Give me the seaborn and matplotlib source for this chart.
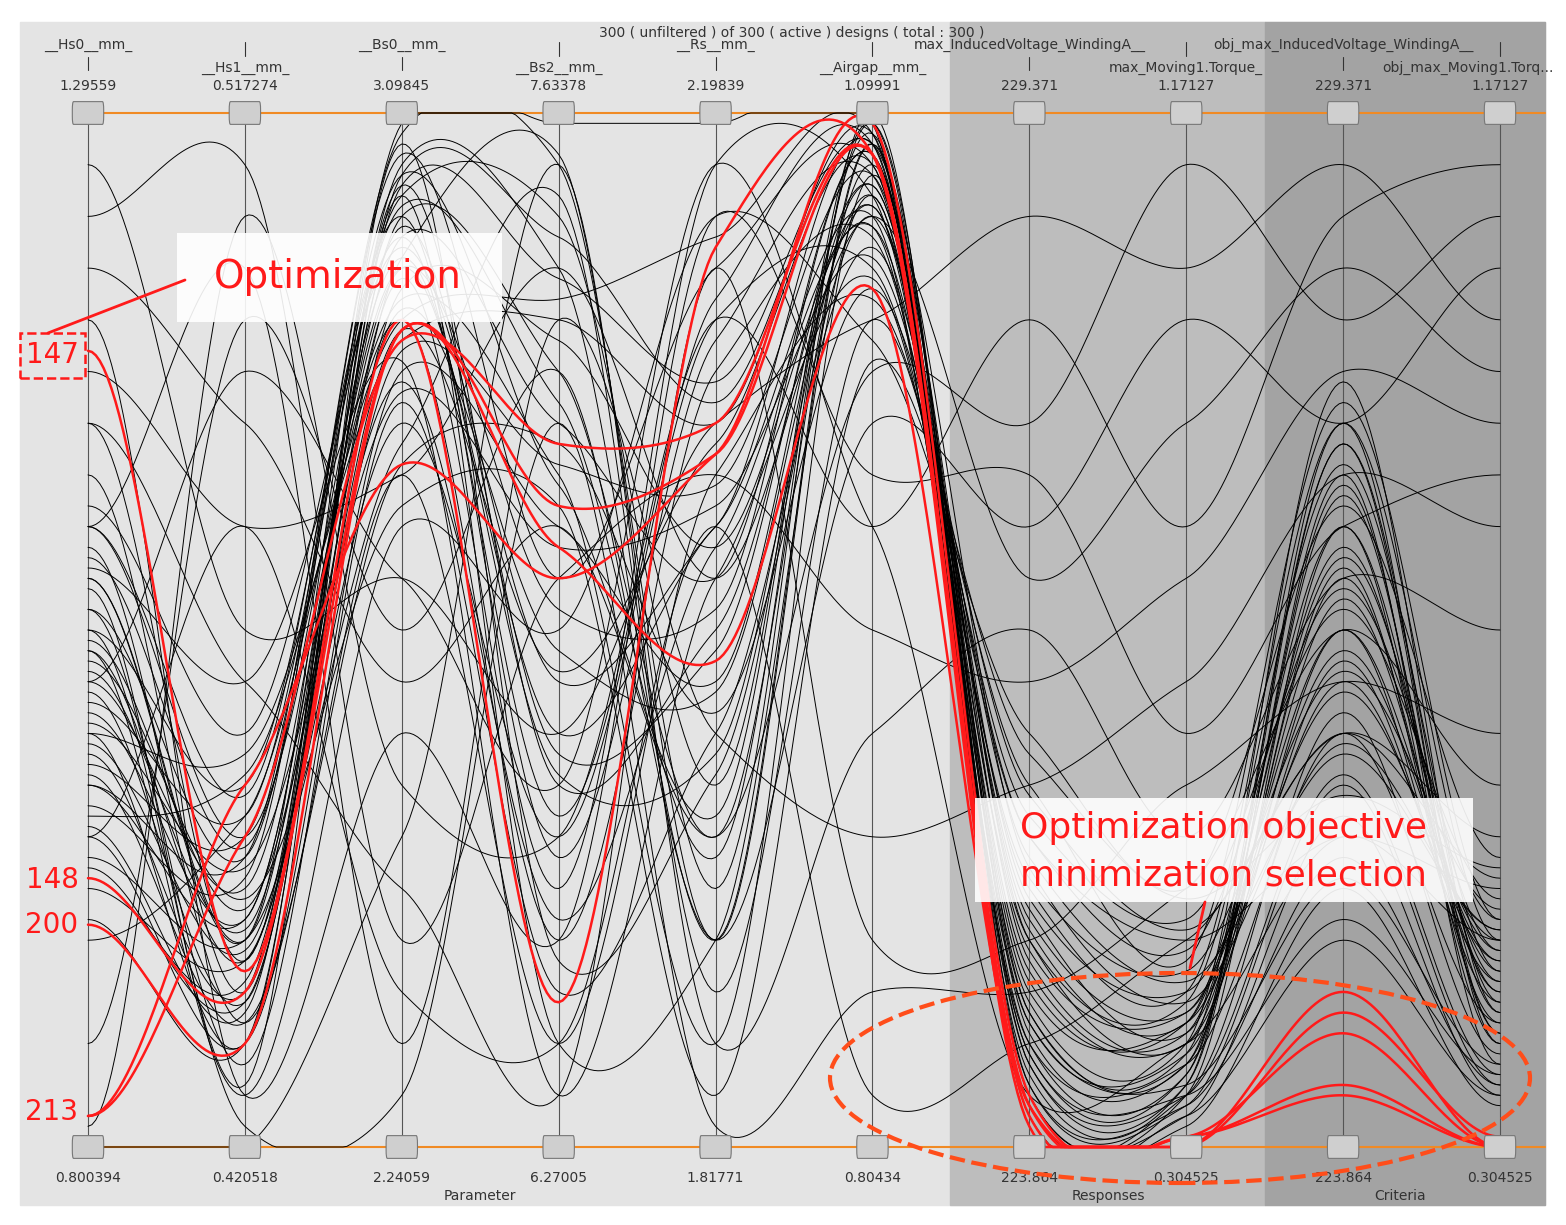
import numpy as np
import pandas as pd
import matplotlib
matplotlib.use("Agg")
import matplotlib.pyplot as plt
from matplotlib.patches import Rectangle, FancyBboxPatch, Ellipse
import seaborn as sns

axis_names = ["__Hs0__mm_", "__Hs1__mm_", "__Bs0__mm_", "__Bs2__mm_", "__Rs__mm_",
              "__Airgap__mm_", "max_InducedVoltage_WindingA__", "max_Moving1.Torque_",
              "obj_max_InducedVoltage_WindingA__", "obj_max_Moving1.Torq..."]
top_vals = ["1.29559", "0.517274", "3.09845", "7.63378", "2.19839", "1.09991",
            "229.371", "1.17127", "229.371", "1.17127"]
bot_vals = ["0.800394", "0.420518", "2.24059", "6.27005", "1.81771", "0.80434",
            "223.864", "0.304525", "223.864", "0.304525"]

# normalized values (0 = bottom, 1 = top)
black = [
 [0.55,0.20,0.90,0.75,0.30,0.95,0.20,0.10,0.55,0.15],
 [0.45,0.25,0.85,0.40,0.60,0.90,0.10,0.08,0.40,0.12],
 [0.38,0.15,0.95,0.85,0.20,0.97,0.05,0.05,0.60,0.10],
 [0.60,0.30,0.80,0.20,0.75,0.88,0.25,0.15,0.70,0.20],
 [0.30,0.10,0.75,0.60,0.45,0.93,0.15,0.12,0.45,0.18],
 [0.50,0.35,0.92,0.90,0.35,0.99,0.08,0.06,0.65,0.08],
 [0.25,0.18,0.70,0.30,0.80,0.85,0.30,0.20,0.30,0.25],
 [0.42,0.22,0.88,0.70,0.55,0.96,0.12,0.09,0.50,0.14],
 [0.58,0.12,0.65,0.10,0.65,0.82,0.35,0.18,0.72,0.22],
 [0.35,0.28,0.98,0.95,0.25,1.00,0.06,0.04,0.35,0.06],
 [0.48,0.05,0.60,0.50,0.90,0.78,0.40,0.25,0.62,0.28],
 [0.20,0.32,0.82,0.65,0.10,0.94,0.18,0.11,0.58,0.16],
 [0.65,0.15,0.93,0.35,0.50,0.91,0.22,0.13,0.48,0.19],
 [0.40,0.38,0.78,0.80,0.70,0.98,0.09,0.07,0.68,0.11],
 [0.52,0.08,0.72,0.15,0.40,0.87,0.28,0.16,0.38,0.21],
 [0.33,0.26,0.96,0.55,0.85,0.95,0.14,0.10,0.74,0.13],
 [0.28,0.20,0.68,0.92,0.15,0.80,0.32,0.22,0.52,0.24],
 [0.62,0.40,0.87,0.45,0.60,0.97,0.04,0.05,0.42,0.09],
 [0.44,0.14,0.84,0.25,0.95,0.92,0.20,0.14,0.66,0.17],
 [0.37,0.30,0.91,0.72,0.28,0.99,0.11,0.08,0.56,0.12],
 [0.56,0.45,0.76,0.05,0.55,0.84,0.26,0.17,0.46,0.23],
 [0.22,0.10,0.94,0.88,0.72,0.96,0.07,0.06,0.70,0.10],
 [0.47,0.24,0.62,0.62,0.05,0.76,0.38,0.24,0.34,0.27],
 [0.70,0.18,0.89,0.38,0.48,0.93,0.16,0.12,0.60,0.15],
 [0.32,0.36,0.80,0.82,0.88,0.98,0.10,0.07,0.64,0.11],
 [0.54,0.06,0.97,0.18,0.36,0.90,0.24,0.15,0.44,0.20],
 [0.41,0.27,0.73,0.58,0.62,0.86,0.30,0.19,0.54,0.22],
 [0.26,0.16,0.86,0.96,0.20,0.97,0.13,0.09,0.68,0.14],
 [0.60,0.34,0.90,0.28,0.78,0.94,0.19,0.13,0.50,0.18],
 [0.36,0.12,0.66,0.68,0.42,0.83,0.34,0.21,0.40,0.26],
 [0.95,0.50,0.55,0.40,0.70,0.80,0.90,0.85,0.95,0.80],
 [0.85,0.70,0.45,0.60,0.30,0.75,0.70,0.95,0.80,0.90],
 [0.75,0.60,0.65,0.85,0.55,0.90,0.55,0.70,0.85,0.75],
 [0.02,0.90,0.35,0.30,0.80,0.60,0.80,0.60,0.90,0.95],
 [0.10,0.80,0.50,0.75,0.20,0.70,0.60,0.80,0.70,0.85],
 [0.90,0.95,0.20,0.55,0.65,0.50,0.45,0.55,0.75,0.70],
 [0.80,0.05,0.40,0.20,0.90,0.65,0.65,0.40,0.60,0.65],
 [0.00,0.00,0.30,0.95,0.10,0.40,0.50,0.30,0.55,0.50],
 [0.60,0.85,0.10,0.80,0.40,0.30,0.35,0.45,0.65,0.60],
 [0.70,0.45,0.25,0.05,0.85,0.20,0.20,0.35,0.45,0.40],
 [0.50,0.02,0.05,0.70,0.02,0.15,0.15,0.25,0.50,0.35],
 [0.30,0.60,0.15,0.10,0.60,0.05,0.10,0.20,0.40,0.30],
 [0.45,0.75,0.55,0.35,0.95,0.60,0.05,0.10,0.30,0.20],
 [0.55,0.20,0.99,0.99,0.99,0.99,0.02,0.03,0.20,0.05],
 [0.40,0.10,0.92,0.10,0.20,0.92,0.03,0.02,0.25,0.04],
 [0.35,0.22,0.85,0.52,0.52,0.96,0.08,0.05,0.36,0.07],
 [0.48,0.18,0.79,0.46,0.68,0.95,0.06,0.04,0.28,0.06],
 [0.52,0.28,0.94,0.64,0.32,0.98,0.05,0.03,0.32,0.05],
 [0.27,0.14,0.83,0.78,0.58,0.89,0.12,0.06,0.26,0.08],
 [0.43,0.32,0.88,0.32,0.82,0.97,0.09,0.05,0.22,0.07],
 [0.46,0.21,0.81,0.48,0.44,0.91,0.17,0.10,0.47,0.16],
 [0.39,0.19,0.77,0.66,0.64,0.94,0.21,0.12,0.57,0.19],
 [0.57,0.29,0.86,0.36,0.38,0.92,0.13,0.08,0.63,0.13],
 [0.31,0.13,0.93,0.84,0.74,0.97,0.27,0.14,0.39,0.21],
 [0.49,0.23,0.74,0.22,0.58,0.89,0.23,0.11,0.53,0.17],
]
red = [
 [0.77,0.17,0.80,0.14,0.87,0.96,0.02,0.01,0.05,0.00],
 [0.26,0.15,0.79,0.62,0.67,0.96,0.03,0.01,0.06,0.00],
 [0.215,0.10,0.79,0.58,0.47,0.83,0.04,0.00,0.15,0.00],
 [0.03,0.35,0.66,0.55,0.67,0.99,0.05,0.00,0.13,0.01],
 [0.03,0.30,0.78,0.68,0.70,0.96,0.04,0.01,0.11,0.00],
]

def smooth(vals, n=40, k=0.3):
    p = np.asarray(vals, float)
    m = np.zeros_like(p)
    m[1:-1] = k * (p[2:] - p[:-2])
    xs, ys = [], []
    for i in range(len(p) - 1):
        t = np.linspace(0, 1, n, endpoint=False)
        h00 = 2*t**3 - 3*t**2 + 1; h10 = t**3 - 2*t**2 + t
        h01 = -2*t**3 + 3*t**2; h11 = t**3 - t**2
        ys.append(h00*p[i] + h10*m[i] + h01*p[i+1] + h11*m[i+1]); xs.append(i + t)
    xs.append([len(p)-1]); ys.append([p[-1]])
    return np.concatenate(xs), np.clip(np.concatenate(ys), 0, 1.0)

def frame(data, prefix):
    rows = []
    for k, v in enumerate(data):
        x, y = smooth(v)
        rows += [(prefix + str(k), xi, yi) for xi, yi in zip(x, y)]
    return pd.DataFrame(rows, columns=["design", "x", "y"])
dfb = frame(black, "b")
dfr = frame(red, "r")

sns.set_theme(style="white")
plt.rcParams['font.family'] = ['DejaVu Sans']
W, H = 1566, 1225
fig = plt.figure(figsize=(W/100, H/100), dpi=100)
ax = fig.add_axes([0, 0, 1, 1])
sx = 1412/9
px = lambda X: (X - 88)/sx
py = lambda Y: (1147 - Y)/1034

ax.add_patch(Rectangle((px(20), py(1205)), px(1545)-px(20), py(22)-py(1205), color="#e4e4e4", zorder=0))
ax.add_patch(Rectangle((px(950), py(1205)), px(1265)-px(950), py(22)-py(1205), color="#bdbdbd", zorder=0))
ax.add_patch(Rectangle((px(1265), py(1205)), px(1545)-px(1265), py(22)-py(1205), color="#a3a3a3", zorder=0))

for i in range(10):
    ax.plot([i, i], [0, 1], color="#555555", lw=0.8, zorder=1)
ax.plot([px(88), px(1545)], [1, 1], color="#f08a24", lw=1.5, zorder=1)
ax.plot([px(88), px(1545)], [0, 0], color="#f08a24", lw=1.5, zorder=1)

sns.lineplot(data=dfb, x="x", y="y", units="design", estimator=None, color="black",
             lw=0.7, sort=False, ax=ax, legend=False, zorder=2)
sns.lineplot(data=dfr, x="x", y="y", units="design", estimator=None, color="#ff1a1a",
             lw=1.8, sort=False, ax=ax, legend=False, zorder=3)
ax.set_xlim(px(0), px(W)); ax.set_ylim(py(H), py(0)); ax.axis("off")

hw, hh = 0.1, 0.011
for i in range(10):
    for yy in (1, 0):
        ax.add_patch(FancyBboxPatch((i-hw, yy-hh), 2*hw, 2*hh, boxstyle="round,pad=0,rounding_size=0.008",
                                    fc="#cfcfcf", ec="#777777", lw=0.8, zorder=4))
    ax.text(i, py(86), top_vals[i], ha="center", va="center", fontsize=10, color="#333333")
    ax.text(i, py(1178), bot_vals[i], ha="center", va="center", fontsize=10, color="#333333")
    ly = py(45) if i % 2 == 0 else py(68)
    xl = i if i < 9 else px(1468)
    ax.text(xl, ly, axis_names[i], ha="center", va="center", fontsize=10, color="#333333")
    if i % 2 == 0:
        ax.plot([i, i], [py(57), py(70)], color="#333", lw=0.8)
    else:
        ax.plot([i, i], [py(42), py(56)], color="#333", lw=0.8)
ax.text(px(792), py(33), "300 ( unfiltered ) of 300 ( active ) designs ( total : 300 )", ha="center", va="center", fontsize=10, color="#333")
for xt, t in [(480, "Parameter"), (1108, "Responses"), (1400, "Criteria")]:
    ax.text(px(xt), py(1196), t, ha="center", va="center", fontsize=10, color="#333")

ax.add_patch(Rectangle((px(177), py(322)), px(502)-px(177), py(233)-py(322), fc="white", ec="none", alpha=0.9, zorder=5))
ax.text(px(338), py(277), "Optimization", ha="center", va="center", fontsize=28, color="#ff1a1a", zorder=6)
ax.plot([px(48), px(185)], [py(333), py(280)], color="#ff1a1a", lw=2, zorder=6)
ax.add_patch(Rectangle((px(20), py(378)), px(85)-px(20), py(333)-py(378), fc="none", ec="#ff1a1a", lw=1.8, ls="--", zorder=6))
ax.text(px(52), py(355), "147", ha="center", va="center", fontsize=20, color="#ff1a1a", zorder=6)
ax.text(px(52), py(880), "148", ha="center", va="center", fontsize=20, color="#ff1a1a", zorder=6)
ax.text(px(52), py(925), "200", ha="center", va="center", fontsize=20, color="#ff1a1a", zorder=6)
ax.text(px(52), py(1112), "213", ha="center", va="center", fontsize=20, color="#ff1a1a", zorder=6)

ax.add_patch(Rectangle((px(975), py(902)), px(1473)-px(975), py(798)-py(902), fc="white", ec="none", alpha=0.9, zorder=5))
ax.text(px(1224), py(828), "Optimization objective", ha="center", va="center", fontsize=26, color="#ff1a1a", zorder=6)
ax.text(px(1224), py(876), "minimization selection", ha="center", va="center", fontsize=26, color="#ff1a1a", zorder=6)
ax.plot([px(1205), px(1190)], [py(902), py(968)], color="#ff1a1a", lw=2, zorder=6)
ax.add_patch(Ellipse((px(1180), py(1078)), (1530-830)/sx, 210/1034, fc="none", ec="#ff4d1a", lw=3, ls="--", zorder=6))

fig.savefig("out.png", dpi=100)
